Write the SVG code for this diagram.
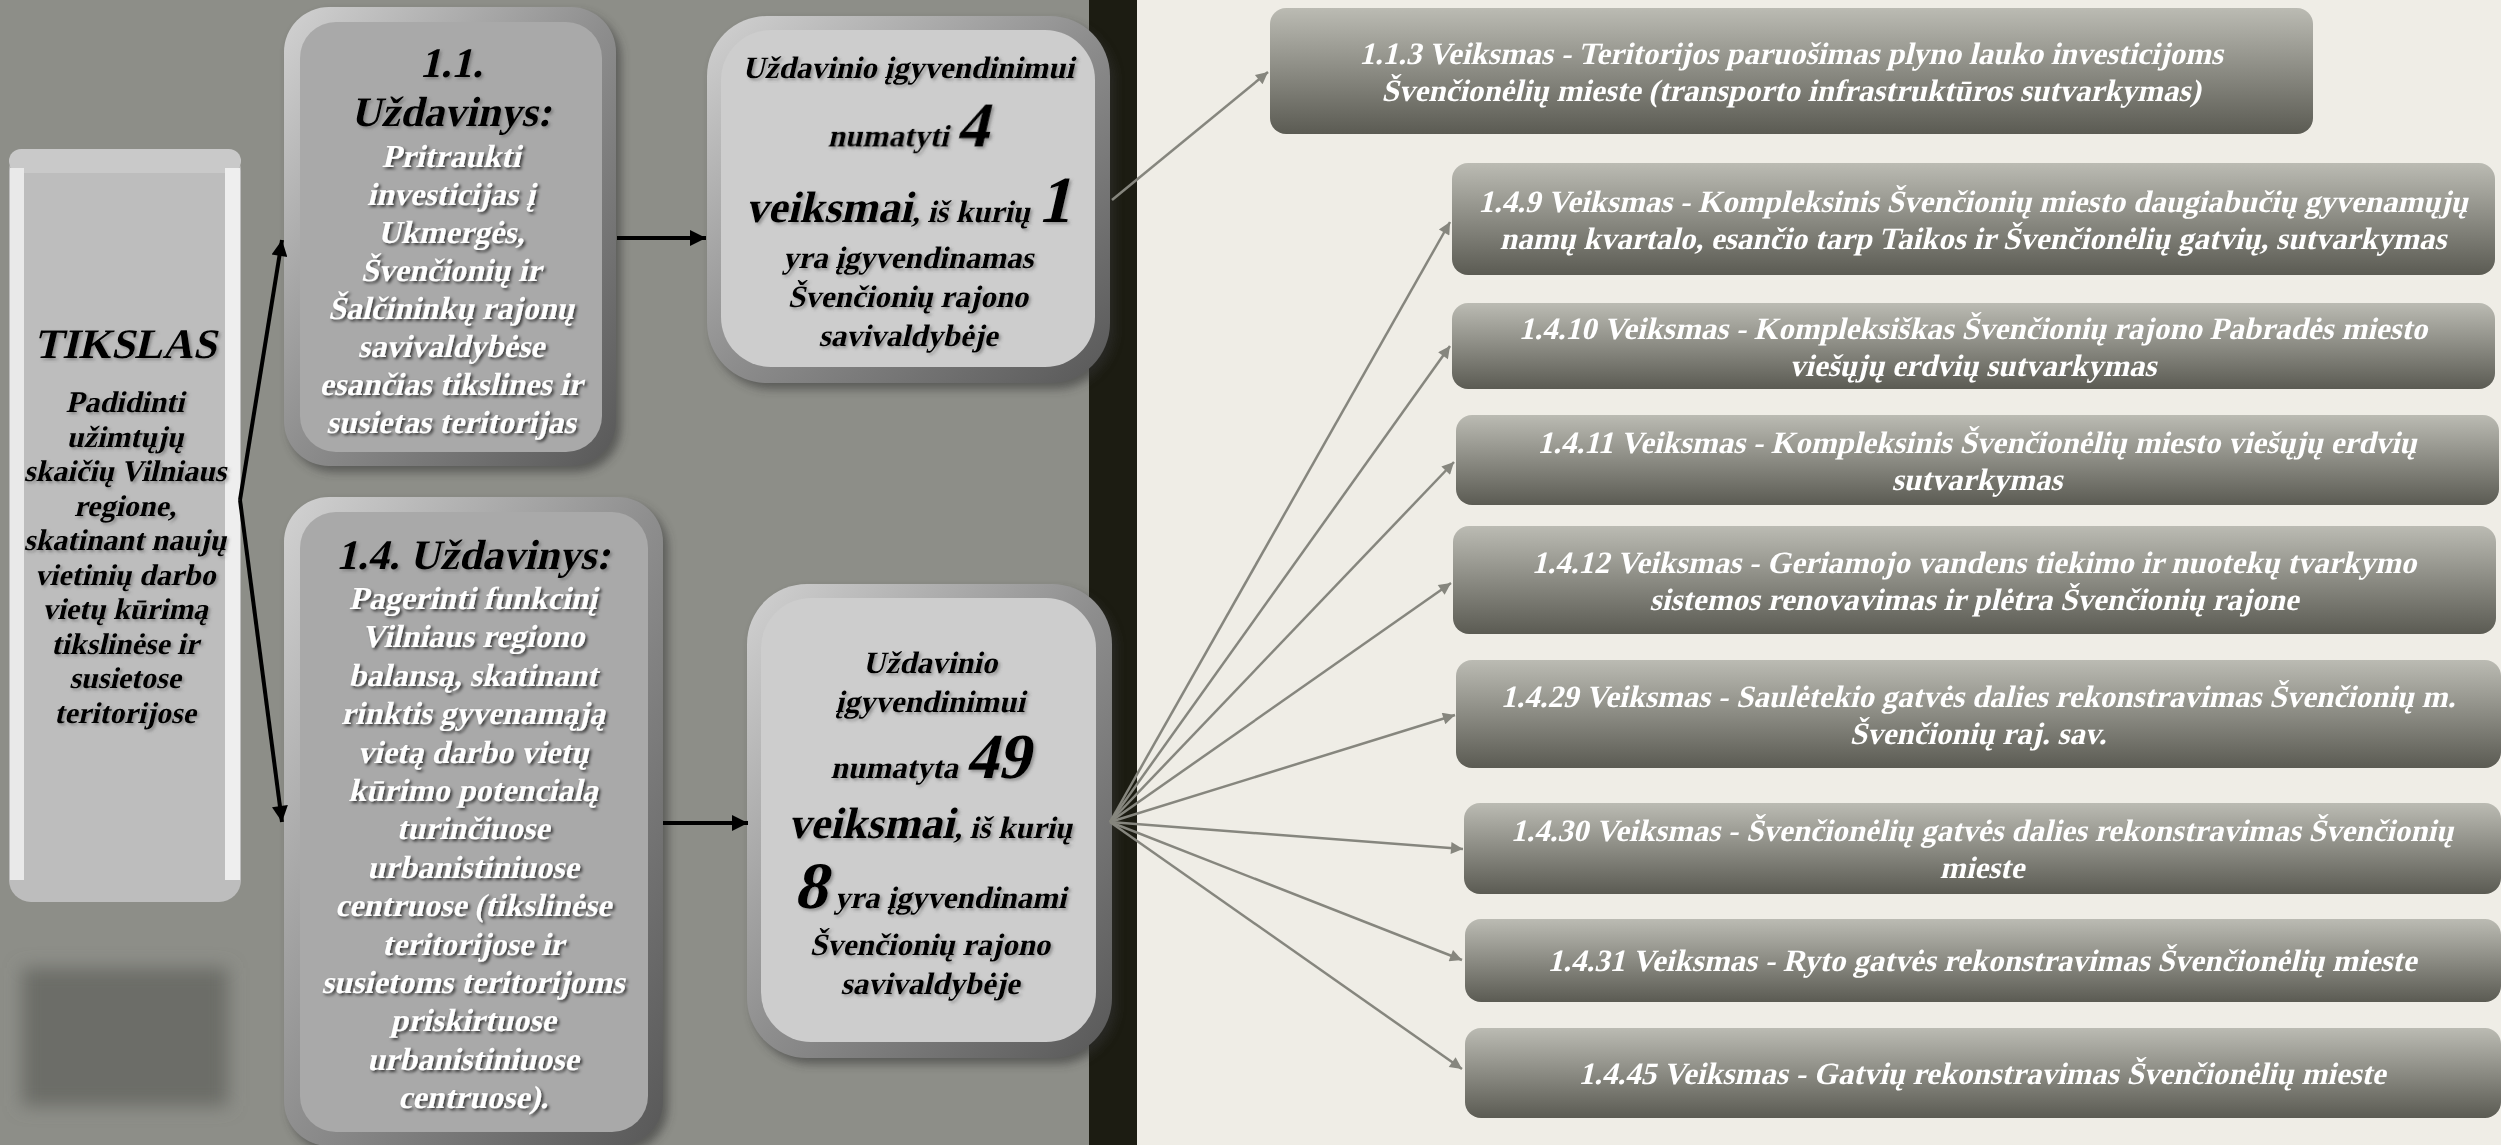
<svg xmlns="http://www.w3.org/2000/svg" width="2501" height="1145" viewBox="0 0 2501 1145">
<style>
text{font-family:"Liberation Serif","Times New Roman",serif;font-weight:bold;text-anchor:middle}
.blk{fill:#000}
.wht{fill:#fff}
.act{fill:#fff;font-size:31px}
.s31{font-size:31px}
.s30{font-size:30px}
.s33{font-size:32px}
.t42{font-size:42px}
.frame{fill:url(#frameGrad)}
.face1{fill:#A9A9A9}
.face2{fill:#CDCDCD}
.actbox{fill:url(#actGrad)}
.gcon{stroke:#86867E;stroke-width:2.5;fill:none;marker-end:url(#ag)}
.bcon{stroke:#000;stroke-width:4;fill:none;marker-end:url(#ab)}
</style>
<defs>
<linearGradient id="frameGrad" x1="0" y1="0" x2="1" y2="1">
<stop offset="0" stop-color="#D2D2D2"/>
<stop offset="0.5" stop-color="#8E8E8E"/>
<stop offset="1" stop-color="#585858"/>
</linearGradient>
<linearGradient id="actGrad" x1="0" y1="0" x2="0" y2="1">
<stop offset="0" stop-color="#BBBBB3"/>
<stop offset="1" stop-color="#5B5B53"/>
</linearGradient>
<filter id="shadow" x="-10%" y="-10%" width="130%" height="130%">
<feGaussianBlur stdDeviation="5"/>
</filter>
<filter id="blur" x="-20%" y="-20%" width="140%" height="140%">
<feGaussianBlur stdDeviation="9"/>
</filter>
<filter id="tsW" x="-5%" y="-20%" width="110%" height="150%">
<feDropShadow dx="2" dy="2" stdDeviation="1.5" flood-color="#000" flood-opacity="0.65"/>
</filter>
<filter id="tsB" x="-5%" y="-20%" width="110%" height="150%">
<feDropShadow dx="2" dy="2" stdDeviation="1.5" flood-color="#555" flood-opacity="0.5"/>
</filter>
<marker id="ab" viewBox="0 0 10 10" refX="10" refY="5" markerWidth="24" markerHeight="16" markerUnits="userSpaceOnUse" orient="auto"><path d="M0,0 L10,5 L0,10 z" fill="#000"/></marker>
<marker id="ag" viewBox="0 0 10 10" refX="10" refY="5" markerWidth="17" markerHeight="12" markerUnits="userSpaceOnUse" orient="auto"><path d="M0,0 L10,5 L0,10 z" fill="#86867E"/></marker>
</defs>

<g id="background">
<rect x="0" y="0" width="1089" height="1145" fill="#8D8E88"/>
<rect x="1089" y="0" width="48" height="1145" fill="#1C1C12"/>
<rect x="1137" y="0" width="1364" height="1145" fill="#EFEDE6"/>
<rect x="22" y="968" width="206" height="138" fill="#6C6D68" filter="url(#blur)"/>
</g>

<g id="tikslas">
<rect x="9" y="149" width="232" height="753" rx="22" fill="#BDBDBD"/>
<rect x="9" y="149" width="232" height="24" rx="12" fill="#C9C9C9"/>
<rect x="10" y="168" width="14" height="712" fill="#E9E9E9"/>
<rect x="225" y="168" width="15" height="712" fill="#EEEEEE"/>
<g class="blk" filter="url(#tsB)">
<text transform="translate(125,358) skewX(-13)" class="t42">TIKSLAS</text>
<text transform="translate(125,412) skewX(-13)" class="s30">Padidinti</text>
<text transform="translate(125,446.5) skewX(-13)" class="s30">užimtųjų</text>
<text transform="translate(125,481) skewX(-13)" class="s30">skaičių Vilniaus</text>
<text transform="translate(125,515.5) skewX(-13)" class="s30">regione,</text>
<text transform="translate(125,550) skewX(-13)" class="s30">skatinant naujų</text>
<text transform="translate(125,584.5) skewX(-13)" class="s30">vietinių darbo</text>
<text transform="translate(125,619) skewX(-13)" class="s30">vietų kūrimą</text>
<text transform="translate(125,653.5) skewX(-13)" class="s30">tikslinėse ir</text>
<text transform="translate(125,688) skewX(-13)" class="s30">susietose</text>
<text transform="translate(125,722.5) skewX(-13)" class="s30">teritorijose</text>
</g>
</g>

<g id="uzdavinys-1-1">
<rect x="289" y="13" width="332" height="459" rx="45" fill="#333" opacity="0.55" filter="url(#shadow)"/>
<rect x="284" y="7" width="332" height="459" rx="45" class="frame"/>
<rect x="300" y="22" width="302" height="430" rx="36" class="face1"/>
<g class="blk" filter="url(#tsB)">
<text transform="translate(451,77) skewX(-13)" class="t42">1.1.</text>
<text transform="translate(451,126) skewX(-13)" class="t42">Uždavinys:</text>
</g>
<g class="wht" filter="url(#tsW)">
<text transform="translate(451,167) skewX(-13)" class="s33">Pritraukti</text>
<text transform="translate(451,205) skewX(-13)" class="s33">investicijas į</text>
<text transform="translate(451,243) skewX(-13)" class="s33">Ukmergės,</text>
<text transform="translate(451,281) skewX(-13)" class="s33">Švenčionių ir</text>
<text transform="translate(451,319) skewX(-13)" class="s33">Šalčininkų rajonų</text>
<text transform="translate(451,357) skewX(-13)" class="s33">savivaldybėse</text>
<text transform="translate(451,395) skewX(-13)" class="s33">esančias tikslines ir</text>
<text transform="translate(451,433) skewX(-13)" class="s33">susietas teritorijas</text>
</g>
</g>

<g id="uzdavinys-1-4">
<rect x="289" y="503" width="379" height="649" rx="45" fill="#333" opacity="0.55" filter="url(#shadow)"/>
<rect x="284" y="497" width="379" height="649" rx="45" class="frame"/>
<rect x="300" y="512" width="348" height="620" rx="36" class="face1"/>
<g class="blk" filter="url(#tsB)">
<text transform="translate(473,569) skewX(-13)" class="t42">1.4. Uždavinys:</text>
</g>
<g class="wht" filter="url(#tsW)">
<text transform="translate(473,609) skewX(-13)" class="s33">Pagerinti funkcinį</text>
<text transform="translate(473,647.4) skewX(-13)" class="s33">Vilniaus regiono</text>
<text transform="translate(473,685.8) skewX(-13)" class="s33">balansą, skatinant</text>
<text transform="translate(473,724.2) skewX(-13)" class="s33">rinktis gyvenamąją</text>
<text transform="translate(473,762.6) skewX(-13)" class="s33">vietą darbo vietų</text>
<text transform="translate(473,801) skewX(-13)" class="s33">kūrimo potencialą</text>
<text transform="translate(473,839.4) skewX(-13)" class="s33">turinčiuose</text>
<text transform="translate(473,877.8) skewX(-13)" class="s33">urbanistiniuose</text>
<text transform="translate(473,916.2) skewX(-13)" class="s33">centruose (tikslinėse</text>
<text transform="translate(473,954.6) skewX(-13)" class="s33">teritorijose ir</text>
<text transform="translate(473,993) skewX(-13)" class="s33">susietoms teritorijoms</text>
<text transform="translate(473,1031.4) skewX(-13)" class="s33">priskirtuose</text>
<text transform="translate(473,1069.8) skewX(-13)" class="s33">urbanistiniuose</text>
<text transform="translate(473,1108.2) skewX(-13)" class="s33">centruose).</text>
</g>
</g>

<g id="veiksmai-4">
<rect x="712" y="22" width="403" height="367" rx="60" fill="#333" opacity="0.55" filter="url(#shadow)"/>
<rect x="707" y="16" width="403" height="367" rx="60" class="frame"/>
<rect x="721" y="30" width="374" height="337" rx="50" class="face2"/>
<g class="blk" filter="url(#tsB)">
<text transform="translate(908,78) skewX(-13)" class="s31">Uždavinio įgyvendinimui</text>
<text transform="translate(908,146) skewX(-13)" class="s31">numatyti <tspan font-size="64">4</tspan></text>
<text transform="translate(908,222) skewX(-13)" class="s31"><tspan font-size="44">veiksmai</tspan>, iš kurių <tspan font-size="66">1</tspan></text>
<text transform="translate(908,268) skewX(-13)" class="s31">yra įgyvendinamas</text>
<text transform="translate(908,307) skewX(-13)" class="s31">Švenčionių rajono</text>
<text transform="translate(908,346) skewX(-13)" class="s31">savivaldybėje</text>
</g>
</g>

<g id="veiksmai-49">
<rect x="752" y="590" width="365" height="474" rx="60" fill="#333" opacity="0.55" filter="url(#shadow)"/>
<rect x="747" y="584" width="365" height="474" rx="60" class="frame"/>
<rect x="761" y="598" width="335" height="444" rx="50" class="face2"/>
<g class="blk" filter="url(#tsB)">
<text transform="translate(930,673) skewX(-13)" class="s31">Uždavinio</text>
<text transform="translate(930,712) skewX(-13)" class="s31">įgyvendinimui</text>
<text transform="translate(930,778) skewX(-13)" class="s31">numatyta <tspan font-size="64">49</tspan></text>
<text transform="translate(930,838) skewX(-13)" class="s31"><tspan font-size="44">veiksmai</tspan>, iš kurių</text>
<text transform="translate(930,908) skewX(-13)" class="s31"><tspan font-size="66">8</tspan> yra įgyvendinami</text>
<text transform="translate(930,955) skewX(-13)" class="s31">Švenčionių rajono</text>
<text transform="translate(930,994) skewX(-13)" class="s31">savivaldybėje</text>
</g>
</g>

<g id="connectors">
<line x1="240" y1="500" x2="282" y2="240" class="bcon"/>
<line x1="240" y1="500" x2="282" y2="822" class="bcon"/>
<line x1="617" y1="238" x2="706" y2="238" class="bcon"/>
<line x1="663" y1="823" x2="748" y2="823" class="bcon"/>
<line x1="1112" y1="200" x2="1268" y2="72" class="gcon"/>
<line x1="1110" y1="822" x2="1450" y2="222" class="gcon"/>
<line x1="1110" y1="822" x2="1450" y2="346" class="gcon"/>
<line x1="1110" y1="822" x2="1454" y2="462" class="gcon"/>
<line x1="1110" y1="822" x2="1451" y2="583" class="gcon"/>
<line x1="1110" y1="822" x2="1455" y2="715" class="gcon"/>
<line x1="1110" y1="822" x2="1463" y2="849" class="gcon"/>
<line x1="1110" y1="822" x2="1462" y2="960" class="gcon"/>
<line x1="1110" y1="822" x2="1462" y2="1069" class="gcon"/>
</g>

<g id="veiksmas-1-1-3">
<rect x="1270" y="8" width="1043" height="126" rx="16" class="actbox"/>
<text transform="translate(1791,63.5) skewX(-13)" class="act">1.1.3 Veiksmas  - Teritorijos paruošimas plyno lauko investicijoms</text>
<text transform="translate(1791,100.5) skewX(-13)" class="act">Švenčionėlių mieste (transporto infrastruktūros sutvarkymas)</text>
</g>
<g id="veiksmas-1-4-9">
<rect x="1452" y="163" width="1043" height="112" rx="16" class="actbox"/>
<text transform="translate(1973,211.5) skewX(-13)" class="act">1.4.9 Veiksmas - Kompleksinis Švenčionių miesto daugiabučių gyvenamųjų</text>
<text transform="translate(1973,248.5) skewX(-13)" class="act">namų kvartalo, esančio tarp Taikos ir Švenčionėlių gatvių, sutvarkymas</text>
</g>
<g id="veiksmas-1-4-10">
<rect x="1452" y="303" width="1043" height="86" rx="16" class="actbox"/>
<text transform="translate(1973,338.5) skewX(-13)" class="act">1.4.10 Veiksmas -  Kompleksiškas Švenčionių rajono Pabradės miesto</text>
<text transform="translate(1973,375.5) skewX(-13)" class="act">viešųjų erdvių sutvarkymas</text>
</g>
<g id="veiksmas-1-4-11">
<rect x="1456" y="415" width="1043" height="90" rx="16" class="actbox"/>
<text transform="translate(1977,452.5) skewX(-13)" class="act">1.4.11 Veiksmas - Kompleksinis Švenčionėlių miesto viešųjų erdvių</text>
<text transform="translate(1977,489.5) skewX(-13)" class="act">sutvarkymas</text>
</g>
<g id="veiksmas-1-4-12">
<rect x="1453" y="526" width="1043" height="108" rx="16" class="actbox"/>
<text transform="translate(1974,572.5) skewX(-13)" class="act">1.4.12 Veiksmas - Geriamojo vandens tiekimo ir nuotekų tvarkymo</text>
<text transform="translate(1974,609.5) skewX(-13)" class="act">sistemos renovavimas ir plėtra Švenčionių rajone</text>
</g>
<g id="veiksmas-1-4-29">
<rect x="1456" y="660" width="1045" height="108" rx="16" class="actbox"/>
<text transform="translate(1978,706.5) skewX(-13)" class="act">1.4.29 Veiksmas - Saulėtekio gatvės dalies rekonstravimas Švenčionių m.</text>
<text transform="translate(1978,743.5) skewX(-13)" class="act">Švenčionių raj. sav.</text>
</g>
<g id="veiksmas-1-4-30">
<rect x="1464" y="803" width="1037" height="91" rx="16" class="actbox"/>
<text transform="translate(1982,840.5) skewX(-13)" class="act">1.4.30 Veiksmas - Švenčionėlių gatvės dalies rekonstravimas Švenčionių</text>
<text transform="translate(1982,877.5) skewX(-13)" class="act">mieste</text>
</g>
<g id="veiksmas-1-4-31">
<rect x="1465" y="919" width="1036" height="83" rx="16" class="actbox"/>
<text transform="translate(1982,971) skewX(-13)" class="act">1.4.31 Veiksmas - Ryto gatvės rekonstravimas Švenčionėlių mieste</text>
</g>
<g id="veiksmas-1-4-45">
<rect x="1465" y="1028" width="1036" height="90" rx="16" class="actbox"/>
<text transform="translate(1982,1084) skewX(-13)" class="act">1.4.45 Veiksmas - Gatvių rekonstravimas Švenčionėlių mieste</text>
</g>
</svg>
